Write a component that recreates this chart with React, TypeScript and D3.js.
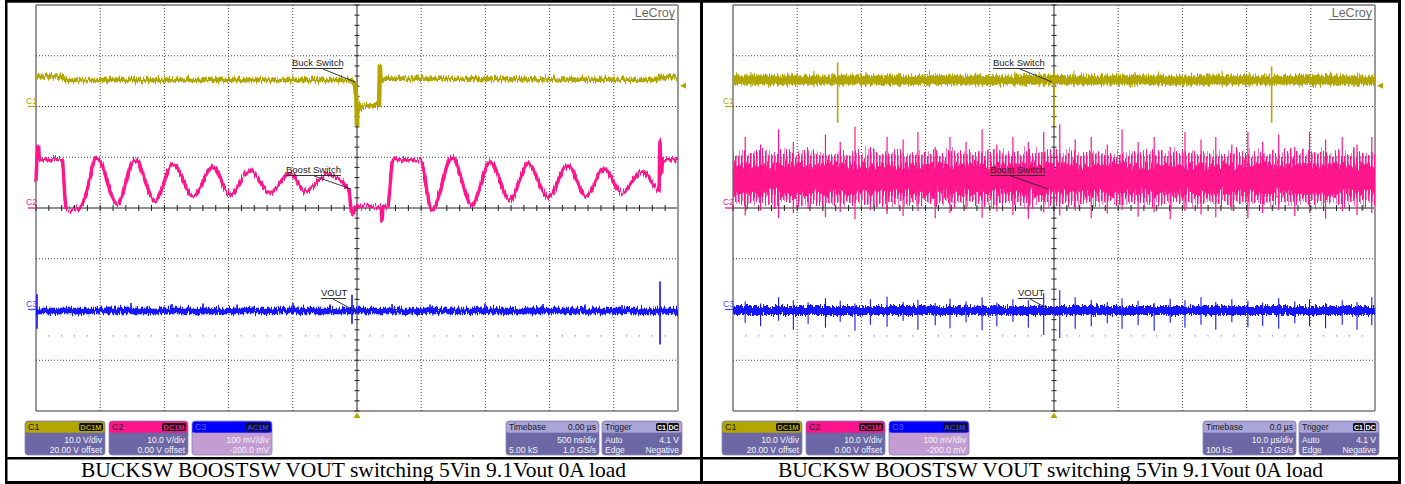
import React from "react";
import * as d3 from "d3";

type P = [number, number];

const W = 1405;
const H = 484;
const SANS = "'Liberation Sans', Arial, Helvetica, sans-serif";
const SERIF = "'Liberation Serif', 'Times New Roman', serif";
const YELLOW = "#b3a600";
const PINK = "#ff148c";
const BLUE = "#1414ff";
const SLATE = "#6c68a6";

// ---------------- DATA ----------------
const caption = "BUCKSW BOOSTSW VOUT switching 5Vin 9.1Vout 0A load";

const channelNames = ["C1", "C2", "C3"];
const channelCoupling = ["DC1M", "DC1M", "AC1M"];
const channelScale = ["10.0 V/div", "10.0 V/div", "100 mV/div"];
const channelOffset = ["20.00 V offset", "0.00 V offset", "-200.0 mV"];
const channelUnitsPerDiv = [10, 10, 100]; // V, V, mV
const channelZeroDiv = [2, 0, -2];

const timePerDiv = [500, 10]; // left: ns, right: µs
const timebaseDelay = ["0.00 µs", "0.0 µs"];
const timebasePerDiv = ["500 ns/div", "10.0 µs/div"];
const timebaseSamples = ["5.00 kS", "100 kS"];
const timebaseRate = ["1.0 GS/s", "1.0 GS/s"];

const triggerSource = ["C1", "DC"];
const triggerMode = "Auto";
const triggerLevelV = 4.1;
const triggerType = "Edge";
const triggerSlope = "Negative";

// Left panel (t in ns)
const leftC1: P[] = [
  [-2500, 5.5], [-2470, 5.9], [-2300, 5.9], [-2270, 5.2], [-60, 5.2], [-20, 4.6],
  [-5, 2.0], [0, -3.8], [4, 0.8], [14, -0.7], [40, 0.2], [100, 0.0], [172, 0.3],
  [178, 8.2], [186, 4.8], [196, 5.5], [2340, 5.2], [2356, 5.8], [2500, 5.7],
];

const leftC2: P[] = [
  [-2500, 5.1], [-2484, 12.2], [-2469, 9.5], [-2297, 9.5], [-2266, 0.0], [-2251, -0.4],
  [-2157, 0.2], [-2126, 1.6], [-2025, 10.0], [-1869, 0.8], [-1729, 9.5], [-1573, 1.4],
  [-1433, 8.7], [-1277, 2.2], [-1121, 8.1], [-989, 2.6], [-833, 7.5], [-678, 3.0],
  [-522, 6.9], [-405, 3.3], [-226, 6.7], [-62, 3.5], [-47, 0.0], [-31, -1.2], [-8, 0.4],
  [188, 0.0], [195, -2.6], [202, 0.0], [241, 0.6], [280, 9.5], [491, 9.5], [584, -0.4],
  [740, 10.0], [896, 0.6], [1036, 9.1], [1192, 1.6], [1332, 8.7], [1488, 2.2],
  [1643, 8.3], [1783, 2.4], [1924, 7.7], [2064, 3.0], [2220, 7.3], [2352, 3.5],
  [2360, 13.4], [2368, 6.5], [2383, 9.5], [2500, 9.5],
];

const leftC3Base = -3; // mV
const leftC3SpikeT = [-2492, -1760, -1441, -1199, -934, -498, -210, -39, 273, 569, 997, 1449, 1776, 2064, 2360];
const leftC3SpikeUp = [30, 13, 11, 12, 10, 13, 10, 29, 11, 10, 12, 11, 10, 9, 55];
const leftC3SpikeDown = [-38, -9, -8, -10, -7, -9, -8, -28, -9, -7, -9, -8, -7, -7, -69];

// Right panel (t in µs)
const rightC1Base = 5.2;
const rightC1BigT = [-33.7, 0, 33.9];
const rightC1BigUp = [8.7, 6.9, 7.9];
const rightC1BigDown = [-3.2, -3.9, -3.2];
const rightC1TickT = [-47.2, -41.5, -37.4, -29.3, -24.1, -19.4, -12.2, -6.1, -2.3, 3.1, 7.4, 12.6, 16.3, 21.4, 26.2, 30.4, 38.2, 43.1, 47.3];
const rightC1TickUp = [6.8, 6.7, 7.0, 6.8, 6.6, 7.1, 6.7, 6.9, 6.8, 7.0, 6.6, 6.8, 6.9, 6.7, 7.0, 6.8, 6.6, 6.9, 6.7];

const rightEventT = [
  -48.1, -45.7, -42.9, -40.6, -38.3, -35.6, -33.3, -31.0, -28.6, -26.0, -23.5, -21.2,
  -18.5, -16.2, -13.7, -11.2, -8.9, -6.4, -4.0, -1.6, 0.9, 3.3, 5.8, 8.3, 10.6, 13.1,
  15.6, 18.1, 20.4, 22.9, 25.2, 27.7, 30.2, 32.5, 35.0, 37.5, 39.8, 42.3, 44.9, 47.2, 49.5,
];
const rightC2Peak = [
  14.0, 12.5, 15.5, 13.0, 11.5, 14.5, 13.0, 16.0, 12.0, 14.0, 13.5, 15.0, 12.0, 14.0,
  13.0, 15.5, 12.5, 14.0, 13.0, 15.0, 16.5, 13.5, 14.0, 12.5, 15.5, 13.0, 14.0, 12.0,
  15.0, 13.5, 14.0, 12.5, 15.0, 13.0, 14.5, 12.0, 15.0, 13.5, 14.0, 12.5, 14.0,
];
const rightC2Trough = [
  -1.5, -0.5, -2.0, -1.0, -0.2, -1.8, -0.8, -2.2, -0.4, -1.2, -1.6, -0.6, -2.0, -1.0,
  -0.3, -1.9, -0.7, -1.4, -2.1, -0.9, -1.5, -0.5, -2.0, -1.1, -0.4, -1.7, -0.8, -2.2,
  -0.6, -1.3, -1.8, -0.5, -2.0, -1.0, -0.4, -1.6, -0.9, -2.1, -0.7, -1.4, -1.0,
];
const rightC2BandHigh = 10.8;
const rightC2BandLow = 1.0;
const rightC2CoreHigh = 8.6;
const rightC2CoreLow = 2.8;
const rightC3Base = -2;
const rightC3Up = [
  16, 12, 24, 18, 14, 22, 17, 12, 20, 25, 15, 19, 13, 21, 16, 24, 14, 20, 18, 32, 38,
  24, 19, 15, 22, 17, 13, 21, 18, 24, 15, 20, 17, 14, 22, 16, 20, 13, 18, 15, 24,
];
const rightC3Down = [
  -26, -33, -22, -40, -28, -36, -24, -42, -30, -34, -22, -40, -31, -37, -25, -41, -33,
  -24, -36, -50, -56, -38, -33, -27, -38, -31, -42, -26, -36, -30, -40, -25, -35, -32,
  -38, -27, -33, -37, -30, -40, -31,
];

// ---------------- DRAWING ----------------
const GRID_TOP = 5;
const GRID_BOTTOM = 411;

function ChannelBox({ x, w, i }: { x: number; w: number; i: number }) {
  const y = 421, h = 34, hh = 11;
  const headerFill = [YELLOW, PINK, "#0000ff"][i];
  const bodyFill = i === 2 ? "#c39cd1" : SLATE;
  return (
    <g fontFamily={SANS}>
      <rect x={x} y={y} width={w} height={h} rx={3} fill={bodyFill} stroke="#8a86bc" strokeWidth={0.8} />
      <rect x={x + 0.4} y={y + 0.4} width={w - 0.8} height={hh} rx={3} fill={headerFill} />
      <rect x={x + 0.4} y={y + hh - 3} width={w - 0.8} height={3.4} fill={headerFill} />
      <text x={x + 3} y={y + 9} fontSize={9} fill={i === 2 ? "#5a5aff" : "#222"}>{channelNames[i]}</text>
      <rect x={x + w - 26} y={y + 2} width={24} height={8} rx={2} fill="#111" />
      <text x={x + w - 14} y={y + 8.8} fontSize={7.5} fontWeight="bold" textAnchor="middle" fill={i === 2 ? "#3a3aff" : headerFill}>
        {channelCoupling[i]}
      </text>
      <text x={x + w - 3} y={y + 21.5} fontSize={8.5} textAnchor="end" fill="#f4f4f4">{channelScale[i]}</text>
      <text x={x + w - 3} y={y + 32} fontSize={8.5} textAnchor="end" fill="#f4f4f4">{channelOffset[i]}</text>
    </g>
  );
}

function TimebaseBox({ x, idx }: { x: number; idx: number }) {
  const y = 421, h = 34, w = 93, hh = 11;
  return (
    <g fontFamily={SANS} fontSize={8.5}>
      <rect x={x} y={y} width={w} height={h} rx={3} fill={SLATE} stroke="#8a86bc" strokeWidth={0.8} />
      <rect x={x + 0.4} y={y + 0.4} width={w - 0.8} height={hh} rx={3} fill="#aaa5d8" />
      <rect x={x + 0.4} y={y + hh - 3} width={w - 0.8} height={3.4} fill="#aaa5d8" />
      <text x={x + 3} y={y + 9} fill="#1a1a1a">Timebase</text>
      <text x={x + w - 3} y={y + 9} textAnchor="end" fill="#1a1a1a">{timebaseDelay[idx]}</text>
      <text x={x + w - 3} y={y + 21.5} textAnchor="end" fill="#f4f4f4">{timebasePerDiv[idx]}</text>
      <text x={x + 3} y={y + 32} fill="#f4f4f4">{timebaseSamples[idx]}</text>
      <text x={x + w - 3} y={y + 32} textAnchor="end" fill="#f4f4f4">{timebaseRate[idx]}</text>
    </g>
  );
}

function TriggerBox({ x }: { x: number }) {
  const y = 421, h = 34, w = 80, hh = 11;
  return (
    <g fontFamily={SANS} fontSize={8.5}>
      <rect x={x} y={y} width={w} height={h} rx={3} fill={SLATE} stroke="#8a86bc" strokeWidth={0.8} />
      <rect x={x + 0.4} y={y + 0.4} width={w - 0.8} height={hh} rx={3} fill="#aaa5d8" />
      <rect x={x + 0.4} y={y + hh - 3} width={w - 0.8} height={3.4} fill="#aaa5d8" />
      <text x={x + 3} y={y + 9} fill="#1a1a1a">Trigger</text>
      {triggerSource.map((s, k) => (
        <g key={s}>
          <rect x={x + w - 26 + k * 12} y={y + 2} width={11} height={8} rx={1.5} fill="#111" />
          <text x={x + w - 20.5 + k * 12} y={y + 8.7} fontSize={7} fontWeight="bold" textAnchor="middle" fill="#fff">{s}</text>
        </g>
      ))}
      <text x={x + 3} y={y + 21.5} fill="#f4f4f4">{triggerMode}</text>
      <text x={x + w - 3} y={y + 21.5} textAnchor="end" fill="#f4f4f4">{`${triggerLevelV.toFixed(1)} V`}</text>
      <text x={x + 3} y={y + 32} fill="#f4f4f4">{triggerType}</text>
      <text x={x + w - 3} y={y + 32} textAnchor="end" fill="#f4f4f4">{triggerSlope}</text>
    </g>
  );
}

function Panel({ idx, x0, x1 }: { idx: number; x0: number; x1: number }) {
  const td = timePerDiv[idx];
  const x = d3.scaleLinear().domain([-5 * td, 5 * td]).range([x0, x1]);
  const yd = d3.scaleLinear().domain([-4, 4]).range([GRID_BOTTOM, GRID_TOP]);
  const yCh = (ch: number, v: number) => yd(v / channelUnitsPerDiv[ch] + channelZeroDiv[ch]);
  const xc = x(0);
  const yc = yd(0);
  const lineFor = (ch: number, curve: d3.CurveFactory) =>
    d3.line<P>().x((d) => x(d[0])).y((d) => yCh(ch, d[1])).curve(curve);

  const majorT = d3.range(-4, 5).filter((k) => k !== 0);
  const majorV = d3.range(-3, 4).filter((k) => k !== 0);
  const minorT = d3.range(-25, 26);
  const minorV = d3.range(-20, 21);
  const dotRow = d3.range(-24, 25).filter((k) => k % 5 !== 0);

  const t0 = -5 * td, t1 = 5 * td;

  let traces: React.ReactNode;
  if (idx === 0) {
    const c3: P[] = [[t0, leftC3Base], [t1, leftC3Base]];
    traces = (
      <g>
        <path d={lineFor(0, d3.curveLinear)(leftC1) || ""} fill="none" stroke={YELLOW} strokeWidth={4.5} filter="url(#jit)" />
        <path d={lineFor(1, d3.curveMonotoneX)(leftC2) || ""} fill="none" stroke={PINK} strokeWidth={3.5} filter="url(#jit)" />
        <path d={lineFor(2, d3.curveLinear)(c3) || ""} fill="none" stroke={BLUE} strokeWidth={6.5} filter="url(#jit)" />
        {leftC3SpikeT.map((t, i) => (
          <line key={i} x1={x(t)} x2={x(t)} y1={yCh(2, leftC3SpikeUp[i])} y2={yCh(2, leftC3SpikeDown[i])} stroke={BLUE} strokeWidth={1.6} />
        ))}
      </g>
    );
  } else {
    const c1: P[] = [[t0, rightC1Base], [t1, rightC1Base]];
    const c3: P[] = [[t0, rightC3Base], [t1, rightC3Base]];
    traces = (
      <g>
        <path d={lineFor(0, d3.curveLinear)(c1) || ""} fill="none" stroke={YELLOW} strokeWidth={9.5} filter="url(#jit)" />
        {rightC1TickT.map((t, i) => (
          <line key={"t" + i} x1={x(t)} x2={x(t)} y1={yCh(0, rightC1TickUp[i])} y2={yCh(0, 3.8)} stroke={YELLOW} strokeWidth={1.1} />
        ))}
        {rightC1BigT.map((t, i) => (
          <line key={"b" + i} x1={x(t)} x2={x(t)} y1={yCh(0, rightC1BigUp[i])} y2={yCh(0, rightC1BigDown[i])} stroke={YELLOW} strokeWidth={1.6} />
        ))}
        <rect x={x0} width={x1 - x0} y={yCh(1, rightC2BandHigh)} height={yCh(1, rightC2BandLow) - yCh(1, rightC2BandHigh)} fill="url(#vstripe)" filter="url(#jit2)" />
        <rect x={x0} width={x1 - x0} y={yCh(1, rightC2CoreHigh)} height={yCh(1, rightC2CoreLow) - yCh(1, rightC2CoreHigh)} fill={PINK} filter="url(#jit2)" />
        {rightEventT.map((t, i) => (
          <line key={"p" + i} x1={x(t)} x2={x(t)} y1={yCh(1, rightC2Peak[i])} y2={yCh(1, rightC2Trough[i])} stroke={PINK} strokeWidth={1.2} />
        ))}
        <path d={lineFor(2, d3.curveLinear)(c3) || ""} fill="none" stroke={BLUE} strokeWidth={9} filter="url(#jit)" />
        {rightEventT.map((t, i) => (
          <line key={"c" + i} x1={x(t)} x2={x(t)} y1={yCh(2, rightC3Up[i])} y2={yCh(2, rightC3Down[i])} stroke={BLUE} strokeWidth={1.1} />
        ))}
      </g>
    );
  }

  const ann = [
    { text: "Buck Switch", tx: idx === 0 ? -65 : -61, ty: 66, w: 51, from: [-34, 69], to: [-2, 82] },
    { text: "Boost Switch", tx: idx === 0 ? -71 : -64, ty: 173, w: 55, from: [-43, 176], to: [-6, 189] },
    { text: "VOUT", tx: -36, ty: 296, w: 25, from: [-24, 299], to: [0, 312] },
  ];

  const trigY = yCh(0, triggerLevelV);

  return (
    <g>
      <g stroke="#444" strokeWidth={1} strokeDasharray="1,2">
        {majorT.map((k) => (
          <line key={"gx" + k} x1={x(k * td)} x2={x(k * td)} y1={GRID_TOP} y2={GRID_BOTTOM} />
        ))}
        {majorV.map((k) => (
          <line key={"gy" + k} x1={x0} x2={x1} y1={yd(k)} y2={yd(k)} />
        ))}
      </g>
      {dotRow.map((k) => (
        <rect key={"d" + k} x={x((k * td) / 5) - 0.6} y={yd(-2.52) - 0.6} width={1.2} height={1.2} fill="#888" />
      ))}
      <line x1={xc} x2={xc} y1={GRID_TOP} y2={GRID_BOTTOM} stroke="#222" strokeWidth={1} />
      <line x1={x0} x2={x1} y1={yc} y2={yc} stroke="#222" strokeWidth={1} />
      {minorT.map((k) => (
        <line key={"mt" + k} x1={x((k * td) / 5)} x2={x((k * td) / 5)} y1={yc - 3} y2={yc + 3} stroke="#222" />
      ))}
      {minorV.map((k) => (
        <line key={"mv" + k} x1={xc - 2.5} x2={xc + 2.5} y1={yd(k / 5)} y2={yd(k / 5)} stroke="#222" />
      ))}
      <line x1={x0} x2={x1} y1={GRID_TOP} y2={GRID_TOP} stroke="#333" />
      <line x1={x0} x2={x0} y1={GRID_TOP} y2={GRID_BOTTOM} stroke="#333" />
      <line x1={x0} x2={x1} y1={GRID_BOTTOM} y2={GRID_BOTTOM} stroke="#333" />
      <line x1={x1} x2={x1} y1={GRID_TOP} y2={GRID_BOTTOM} stroke="#9a9a9a" strokeWidth={2} />

      {traces}

      {[0, 1, 2].map((ch) => {
        const color = [YELLOW, PINK, "#4a4aff"][ch];
        const yy = yCh(ch, 0);
        return (
          <g key={"cm" + ch}>
            <text x={x0 - 10} y={yy - 3} fontFamily={SANS} fontSize={8.5} fill={color}>{channelNames[ch]}</text>
            <line x1={x0 - 8} x2={x0} y1={yy} y2={yy} stroke={color} strokeWidth={1.3} />
          </g>
        );
      })}

      {ann.map((a) => (
        <g key={a.text} fontFamily={SANS}>
          <text x={xc + a.tx} y={a.ty} fontSize={9.5} fill="#222">{a.text}</text>
          <line x1={xc + a.tx} x2={xc + a.tx + a.w} y1={a.ty + 2.5} y2={a.ty + 2.5} stroke="#222" strokeWidth={0.9} />
          <line x1={xc + a.from[0]} y1={a.from[1]} x2={xc + a.to[0]} y2={a.to[1]} stroke="#222" strokeWidth={0.9} />
        </g>
      ))}

      <text x={x1 - 3} y={17} fontFamily={SANS} fontSize={12.5} textAnchor="end" fill="#6a6a6a">LeCroy</text>
      <line x1={x1 - 46} x2={x1 - 3} y1={19.5} y2={19.5} stroke="#6a6a6a" strokeWidth={1} />

      <path d={`M${x1 + 2},${trigY} L${x1 + 8},${trigY - 3} L${x1 + 8},${trigY + 3} Z`} fill={YELLOW} />
      <path d={`M${xc},${GRID_BOTTOM + 1.5} L${xc - 3.5},${GRID_BOTTOM + 7} L${xc + 3.5},${GRID_BOTTOM + 7} Z`} fill={YELLOW} />

      <ChannelBox x={x0 - 11} w={80} i={0} />
      <ChannelBox x={x0 + 73} w={79} i={1} />
      <ChannelBox x={x0 + 156} w={80} i={2} />
      <TimebaseBox x={x1 - 172} idx={idx} />
      <TriggerBox x={x1 - 76} />
    </g>
  );
}

export default function App() {
  const cellCenters = [353.5, 1050.5];
  const yOnly = "0 0 0 0 0.5  0 1 0 0 0  0 0 1 0 0  0 0 0 0 1";
  return (
    <svg width={W} height={H} viewBox={`0 0 ${W} ${H}`} style={{ position: "absolute", left: 0, top: 0, background: "#fff" }}>
      <defs>
        <filter id="jit" filterUnits="userSpaceOnUse" x={0} y={0} width={W} height={H}>
          <feTurbulence type="fractalNoise" baseFrequency="1.4 0.06" numOctaves={2} seed={3} result="n" />
          <feColorMatrix in="n" type="matrix" values={yOnly} result="m" />
          <feDisplacementMap in="SourceGraphic" in2="m" scale={9} xChannelSelector="R" yChannelSelector="G" />
        </filter>
        <filter id="jit2" filterUnits="userSpaceOnUse" x={0} y={0} width={W} height={H}>
          <feTurbulence type="fractalNoise" baseFrequency="0.9 0.05" numOctaves={2} seed={7} result="n" />
          <feColorMatrix in="n" type="matrix" values={yOnly} result="m" />
          <feDisplacementMap in="SourceGraphic" in2="m" scale={22} xChannelSelector="R" yChannelSelector="G" />
        </filter>
        <pattern id="vstripe" patternUnits="userSpaceOnUse" width={3} height={6}>
          <rect x={0} y={0} width={1.6} height={6} fill={PINK} />
        </pattern>
      </defs>
      <rect x={0} y={0} width={W} height={H} fill="#fff" />
      <Panel idx={0} x0={36} x1={678} />
      <Panel idx={1} x0={733} x1={1375} />

      <g fill="#000">
        <rect x={5} y={0} width={1396} height={2.7} />
        <rect x={5} y={0} width={2.5} height={484} />
        <rect x={700} y={0} width={3} height={484} />
        <rect x={1398} y={0} width={3} height={484} />
        <rect x={5} y={457} width={1396} height={2.5} />
        <rect x={5} y={481} width={1396} height={3} />
      </g>
      {cellCenters.map((cx, i) => (
        <text key={i} x={cx} y={477} fontFamily={SERIF} fontSize={21.5} textAnchor="middle" fill="#000">{caption}</text>
      ))}
    </svg>
  );
}
